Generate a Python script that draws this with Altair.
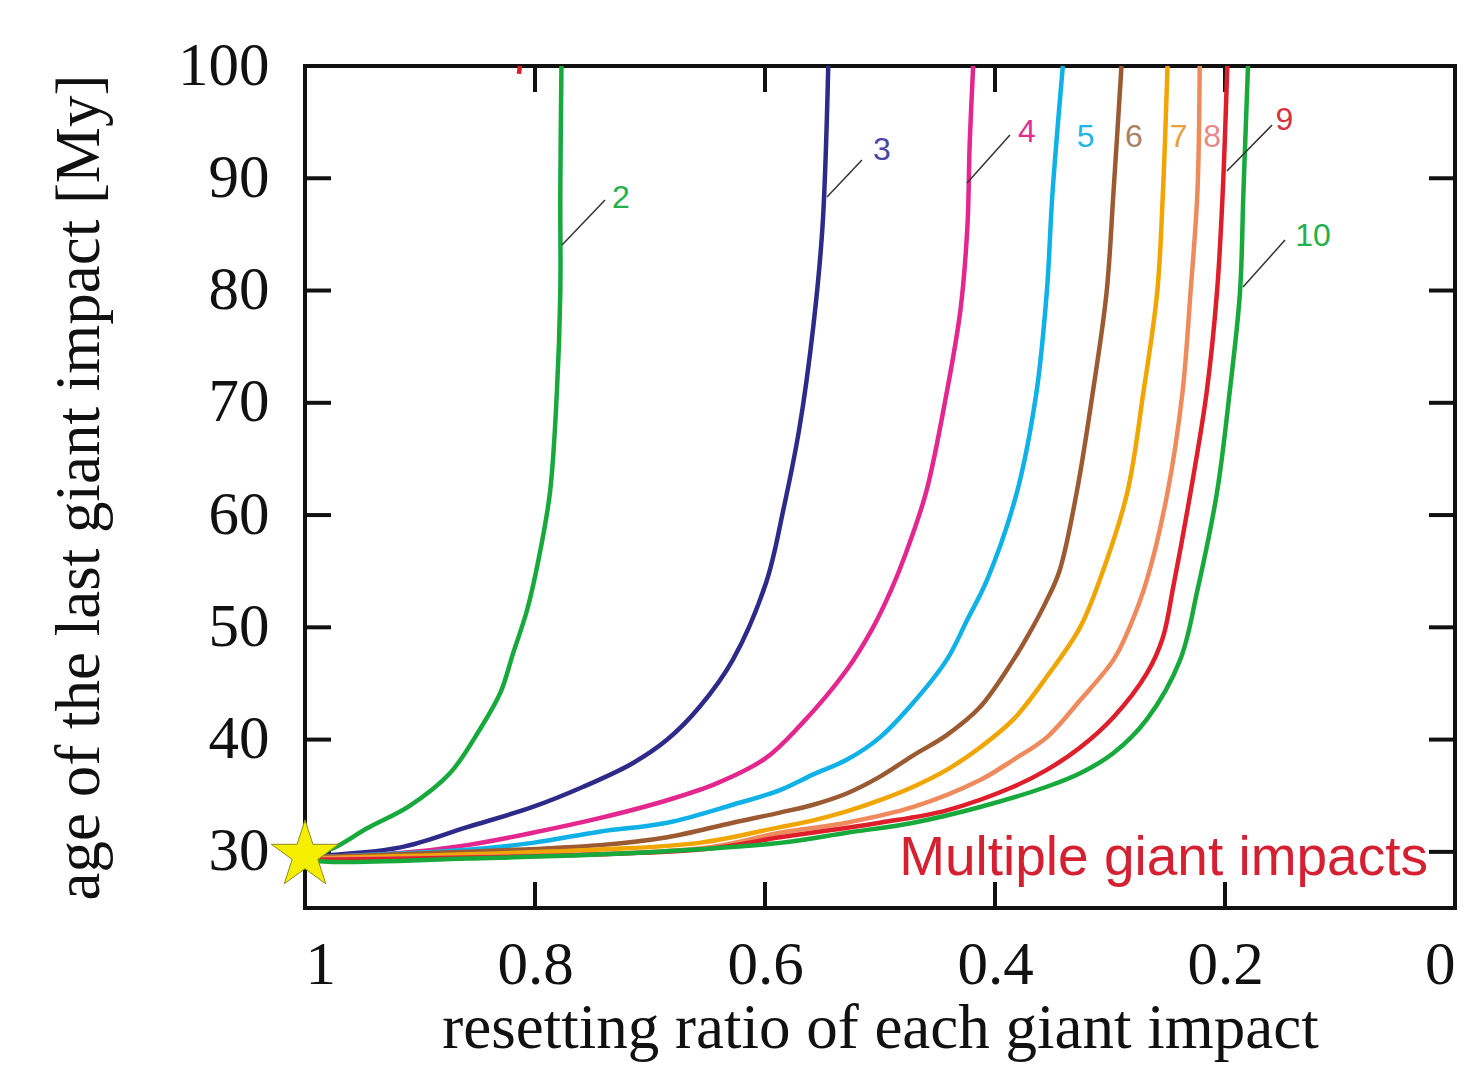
import altair as alt
import pandas as pd

# ---- curves (x = resetting ratio, y = age of last giant impact [My]) ----
curve_names = ["2", "3", "4", "5", "6", "7", "8", "9", "10"]
curve_colors = ["#17a93b", "#2d2a8a", "#e4268f", "#0fb1e6", "#9c5a32",
                "#f0a500", "#ef8a5d", "#de1f2b", "#17a93b"]

c2_x = [1.0, 0.976, 0.946, 0.909, 0.874, 0.848, 0.830, 0.819, 0.807, 0.797, 0.787, 0.781, 0.778, 0.778, 0.777]
c2_y = [29.6, 30.3, 32.1, 34.1, 37.0, 40.9, 44.2, 47.7, 51.5, 56.0, 62.0, 70.9, 79.8, 88.7, 100.0]

c3_x = [1.0, 0.917, 0.859, 0.802, 0.758, 0.715, 0.685, 0.657, 0.628, 0.599, 0.584, 0.570, 0.558, 0.550, 0.545]
c3_y = [29.6, 30.4, 32.2, 34.0, 35.8, 37.9, 40.0, 42.9, 47.1, 54.0, 60.5, 67.8, 76.8, 85.7, 100.0]

c4_x = [1.0, 0.917, 0.859, 0.802, 0.744, 0.685, 0.642, 0.600, 0.570, 0.529, 0.506, 0.490, 0.479, 0.460, 0.442, 0.430, 0.424, 0.422, 0.419]
c4_y = [29.5, 29.9, 30.6, 31.7, 33.0, 34.6, 36.1, 38.3, 41.2, 46.2, 50.0, 53.4, 56.2, 62.0, 70.9, 78.3, 85.7, 93.1, 100.0]

c5_x = [1.0, 0.859, 0.802, 0.744, 0.685, 0.628, 0.587, 0.558, 0.529, 0.500, 0.471, 0.442, 0.424, 0.407, 0.381, 0.364, 0.355, 0.350, 0.341]
c5_y = [29.5, 30.2, 30.8, 31.8, 32.6, 34.2, 35.5, 36.9, 38.2, 40.2, 43.3, 47.1, 50.7, 54.2, 62.0, 70.9, 79.8, 88.7, 100.0]

c6_x = [1.0, 0.744, 0.685, 0.628, 0.587, 0.558, 0.529, 0.500, 0.471, 0.442, 0.413, 0.384, 0.370, 0.356, 0.344, 0.329, 0.315, 0.303, 0.297, 0.290]
c6_y = [29.5, 30.6, 31.3, 32.6, 33.5, 34.2, 35.2, 36.7, 38.6, 40.4, 42.9, 47.1, 49.5, 52.2, 55.0, 62.0, 70.9, 79.8, 88.7, 100.0]

c7_x = [1.0, 0.744, 0.657, 0.587, 0.558, 0.529, 0.500, 0.471, 0.442, 0.413, 0.384, 0.355, 0.326, 0.309, 0.285, 0.271, 0.259, 0.254, 0.250]
c7_y = [29.4, 30.2, 30.8, 32.2, 32.8, 33.6, 34.6, 35.8, 37.3, 39.3, 41.8, 45.6, 50.0, 54.2, 62.0, 70.9, 79.8, 88.7, 100.0]

c8_x = [1.0, 0.657, 0.587, 0.529, 0.471, 0.413, 0.384, 0.355, 0.326, 0.297, 0.283, 0.268, 0.250, 0.237, 0.230, 0.224, 0.222]
c8_y = [29.4, 30.3, 31.7, 32.6, 34.0, 36.4, 38.2, 40.2, 43.5, 47.1, 50.0, 54.2, 62.0, 70.9, 79.8, 88.7, 100.0]

c9_x = [1.0, 0.657, 0.587, 0.500, 0.442, 0.384, 0.355, 0.326, 0.297, 0.268, 0.254, 0.245, 0.230, 0.216, 0.207, 0.202, 0.198]
c9_y = [29.3, 30.2, 31.3, 32.6, 33.7, 35.8, 37.3, 39.3, 42.0, 45.9, 49.1, 53.6, 62.0, 70.9, 79.8, 88.7, 100.0]

c10_x = [1.0, 0.976, 0.859, 0.715, 0.587, 0.529, 0.471, 0.413, 0.355, 0.326, 0.297, 0.268, 0.239, 0.224, 0.207, 0.196, 0.187, 0.184, 0.180]
c10_y = [29.3, 29.1, 29.4, 29.9, 30.8, 31.7, 32.6, 34.0, 35.8, 37.0, 38.8, 41.8, 47.1, 53.3, 62.0, 70.9, 79.8, 88.7, 100.0]

# fragment of curve 1 visible at the top edge
c1_x = [0.814, 0.813]
c1_y = [99.3, 100.0]

# ---- annotations ----
label_text = ["2", "3", "4", "5", "6", "7", "8", "9", "10"]
label_x = [0.733, 0.506, 0.380, 0.329, 0.287, 0.248, 0.219, 0.156, 0.139]
label_y = [88.2, 92.5, 94.1, 93.7, 93.7, 93.7, 93.7, 95.2, 84.9]
label_colors = ["#22b04a", "#4a46a8", "#e0308f", "#22b5e8", "#a58466",
                "#e6a040", "#e88a8a", "#d83040", "#22b04a"]

leader_x1 = [0.7765, 0.5461, 0.4243, 0.1983, 0.1843]
leader_y1 = [84.05, 88.33, 89.58, 90.65, 80.31]
leader_x2 = [0.7391, 0.5157, 0.3870, 0.1591, 0.1478]
leader_y2 = [88.06, 91.62, 93.85, 94.74, 84.50]

note_text = ["Multiple giant impacts"]
note_x = [0.0235]
note_y = [29.45]

star_x = [1.0]
star_y = [29.7]

x_ticks = [1.0, 0.8, 0.6, 0.4, 0.2, 0.0]
x_inner_ticks = [0.8, 0.6, 0.4, 0.2]
y_ticks = [30, 40, 50, 60, 70, 80, 90, 100]
y_inner_ticks = [30, 40, 50, 60, 70, 80, 90]

# ---- build tables ----
curves_x = [c2_x, c3_x, c4_x, c5_x, c6_x, c7_x, c8_x, c9_x, c10_x]
curves_y = [c2_y, c3_y, c4_y, c5_y, c6_y, c7_y, c8_y, c9_y, c10_y]
rows = []
for name, xs, ys in zip(curve_names, curves_x, curves_y):
    for i, (xv, yv) in enumerate(zip(xs, ys)):
        rows.append({"curve": name, "x": xv, "y": yv, "i": i})
curves_df = pd.DataFrame(rows)
c1_df = pd.DataFrame({"x": c1_x, "y": c1_y, "i": range(len(c1_x))})
labels_df = pd.DataFrame({"t": label_text, "x": label_x, "y": label_y, "c": label_colors})
leader_df = pd.DataFrame({"x": leader_x1, "y": leader_y1, "x2": leader_x2, "y2": leader_y2})
note_df = pd.DataFrame({"t": note_text, "x": note_x, "y": note_y})
star_df = pd.DataFrame({"x": star_x, "y": star_y})
xt_df = pd.DataFrame({"x": x_inner_ticks})
yt_df = pd.DataFrame({"y": y_inner_ticks})

W, H = 1150, 842
serif = "Liberation Serif"
sans = "Liberation Sans"

xscale = alt.Scale(domain=[0, 1], reverse=True, nice=False, zero=False)
yscale = alt.Scale(domain=[25, 100], nice=False, zero=False)

xaxis = alt.Axis(values=x_ticks, format="~g", title="resetting ratio of each giant impact",
                 labelFont=serif, labelFontSize=61, labelColor="#111", labelPadding=27,
                 ticks=False, tickSize=0, domain=False, grid=False,
                 titleFont=serif, titleFontSize=63, titleFontWeight="normal", titleColor="#111",
                 titleX=575, titleY=139, titleBaseline="alphabetic")
yaxis = alt.Axis(values=y_ticks, format="d", title="age of the last giant impact [My]",
                 labelFont=serif, labelFontSize=61, labelColor="#111", labelPadding=36,
                 ticks=False, tickSize=0, domain=False, grid=False,
                 titleFont=serif, titleFontSize=63, titleFontWeight="normal", titleColor="#111",
                 titleX=-194, titleY=421)

X = alt.X("x:Q", scale=xscale, axis=xaxis)
Y = alt.Y("y:Q", scale=yscale, axis=yaxis)

lines = alt.Chart(curves_df).mark_line(strokeWidth=4.5, interpolate="catmull-rom").encode(
    x=X, y=Y,
    color=alt.Color("curve:N", scale=alt.Scale(domain=curve_names, range=curve_colors), legend=None),
    order="i:Q",
    detail="curve:N",
)

line1 = alt.Chart(c1_df).mark_line(strokeWidth=4.5, color="#de1f2b").encode(
    x=alt.X("x:Q", scale=xscale), y=alt.Y("y:Q", scale=yscale), order="i:Q")

leaders = alt.Chart(leader_df).mark_rule(strokeWidth=1.5, color="#333").encode(
    x=alt.X("x:Q", scale=xscale), y=alt.Y("y:Q", scale=yscale), x2="x2:Q", y2="y2:Q")

labels = alt.Chart(labels_df).mark_text(font=sans, fontSize=32, align="left", baseline="middle").encode(
    x=alt.X("x:Q", scale=xscale), y=alt.Y("y:Q", scale=yscale), text="t:N",
    color=alt.Color("c:N", scale=None))

note = alt.Chart(note_df).mark_text(font=sans, fontSize=55, align="right", baseline="middle",
                                    color="#d42030").encode(
    x=alt.X("x:Q", scale=xscale), y=alt.Y("y:Q", scale=yscale), text="t:N")

star_path = ("M0,-1 L0.2245,-0.309 L0.951,-0.309 L0.363,0.118 L0.588,0.809 L0,0.382 "
             "L-0.588,0.809 L-0.363,0.118 L-0.951,-0.309 L-0.2245,-0.309 Z")
star = alt.Chart(star_df).mark_point(shape=star_path, size=5000, filled=True, fill="#f5ee00",
                                     stroke="#8a8a20", strokeWidth=1, opacity=1).encode(
    x=alt.X("x:Q", scale=xscale), y=alt.Y("y:Q", scale=yscale))

tick_len = 26
bot_ticks = alt.Chart(xt_df).mark_rule(strokeWidth=4, color="#111").encode(
    x=alt.X("x:Q", scale=xscale), y=alt.value(H), y2=alt.value(H - tick_len))
top_ticks = alt.Chart(xt_df).mark_rule(strokeWidth=4, color="#111").encode(
    x=alt.X("x:Q", scale=xscale), y=alt.value(0), y2=alt.value(tick_len))
left_ticks = alt.Chart(yt_df).mark_rule(strokeWidth=4, color="#111").encode(
    y=alt.Y("y:Q", scale=yscale), x=alt.value(0), x2=alt.value(tick_len))
right_ticks = alt.Chart(yt_df).mark_rule(strokeWidth=4, color="#111").encode(
    y=alt.Y("y:Q", scale=yscale), x=alt.value(W), x2=alt.value(W - tick_len))

chart = alt.layer(
    bot_ticks, top_ticks, left_ticks, right_ticks,
    lines, line1, leaders, labels, note, star,
).properties(
    width=W, height=H,
    autosize=alt.AutoSizeParams(type="none"),
    padding={"left": 297, "top": 58, "right": 12, "bottom": 156},
    background="white",
).configure_view(
    stroke="#111", strokeWidth=4
)

chart.save("out.html", embed_options={"renderer": "svg", "actions": False})
